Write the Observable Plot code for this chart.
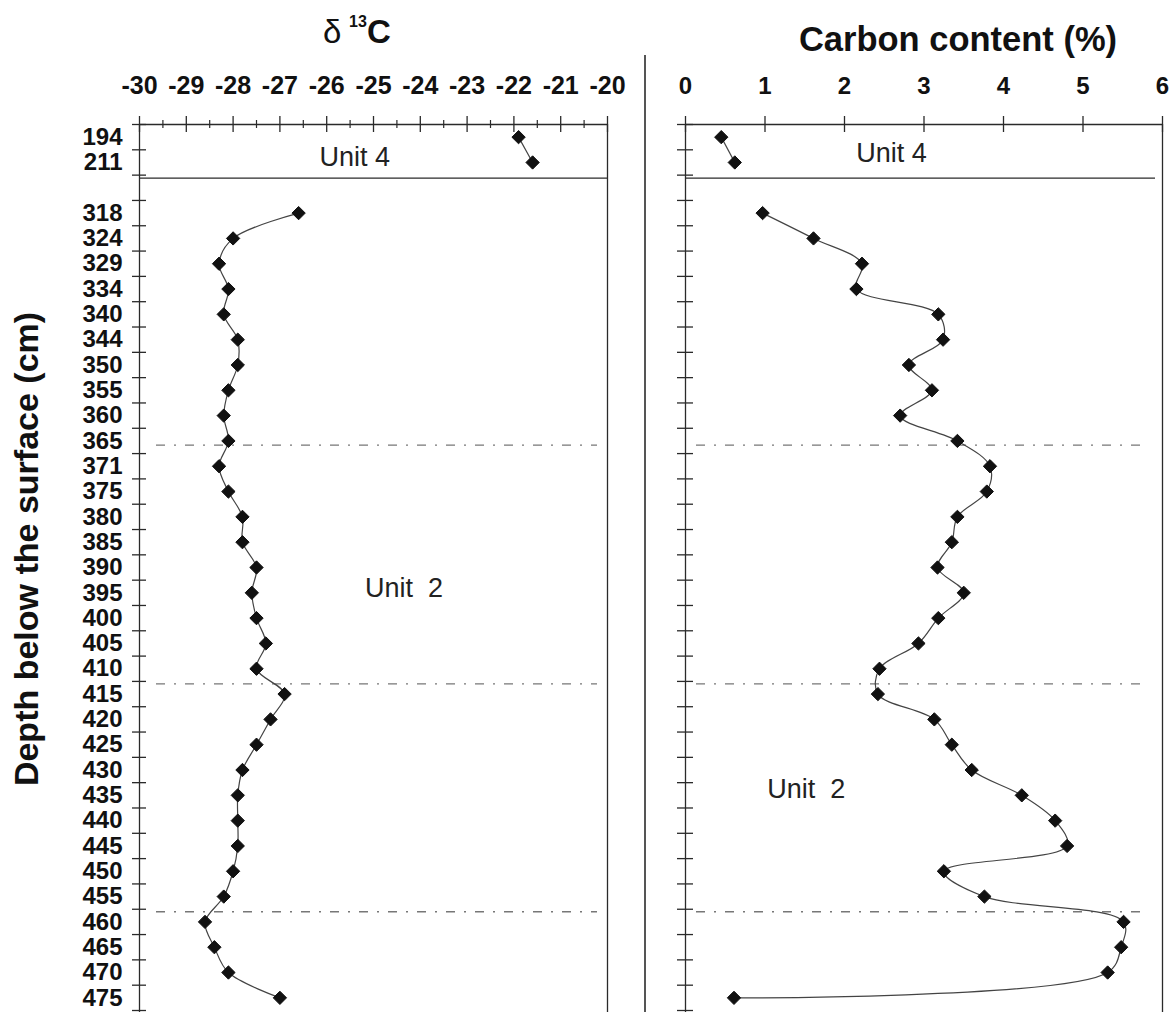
<!DOCTYPE html>
<html>
<head>
<meta charset="utf-8">
<script src="https://cdn.jsdelivr.net/npm/d3@7"></script>
<script src="https://cdn.jsdelivr.net/npm/@observablehq/plot@0.6"></script>
<style>
  html, body { margin: 0; padding: 0; background: #fff; overflow: hidden; }
  #wrap { position: relative; width: 1174px; height: 1012px; overflow: hidden; font-family: "Liberation Sans", Arial, sans-serif; }
  #left { position: absolute; left: 0; top: 0; width: 645px; }
  #right { position: absolute; left: 645px; top: 0; width: 529px; }
  #sep { position: absolute; left: 644px; top: 55px; width: 1.5px; height: 1000px; background: #555; }
  #titles { position: absolute; left: 0; top: 0; pointer-events: none; }
</style>
</head>
<body>
<div id="wrap">
  <div id="left"></div>
  <div id="right"></div>
  <div id="sep"></div>
  <svg id="titles" width="1174" height="1012" font-family="Liberation Sans, Arial, sans-serif" fill="#111">
    <text x="323" y="43" font-size="33">δ</text>
    <text x="349" y="27" font-size="16" font-weight="bold">13</text>
    <text x="367" y="43" font-size="33" font-weight="bold">C</text>
    <text x="958" y="51" font-size="34.5" font-weight="bold" text-anchor="middle">Carbon content (%)</text>
    <text transform="translate(38,549) rotate(-90)" font-size="34" font-weight="bold" text-anchor="middle">Depth below the surface (cm)</text>
  </svg>
</div>
<script>
// ---- data ----
const unit4Depths = [194, 211];
const unit2Depths = [318, 324, 329, 334, 340, 344, 350, 355, 360, 365, 371, 375, 380, 385, 390, 395,
                     400, 405, 410, 415, 420, 425, 430, 435, 440, 445, 450, 455, 460, 465, 470, 475];
const d13cUnit4 = [-21.9, -21.6];
const d13cUnit2 = [-26.6, -28.0, -28.3, -28.1, -28.2, -27.9, -27.9, -28.1, -28.2, -28.1, -28.3, -28.1,
                   -27.8, -27.8, -27.5, -27.6, -27.5, -27.3, -27.5, -26.9, -27.2, -27.5, -27.8, -27.9,
                   -27.9, -27.9, -28.0, -28.2, -28.6, -28.4, -28.1, -27.0];
const carbonUnit4 = [0.45, 0.62];
const carbonUnit2 = [0.97, 1.61, 2.22, 2.15, 3.18, 3.24, 2.81, 3.10, 2.70, 3.42, 3.83, 3.79,
                     3.42, 3.35, 3.17, 3.50, 3.18, 2.93, 2.44, 2.42, 3.13, 3.35, 3.60, 4.23,
                     4.65, 4.80, 3.25, 3.76, 5.51, 5.48, 5.31, 0.61];
const d13cTicks = [-30, -29, -28, -27, -26, -25, -24, -23, -22, -21, -20];
const carbonTicks = [0, 1, 2, 3, 4, 5, 6];
const subUnitBoundaries = [366, 413, 458]; // depths (cm) of dash-dot lines

// ---- derived layout (rows are evenly spaced depth slots, one empty slot between units) ----
const gap = 1;
const nRows = unit4Depths.length + gap + unit2Depths.length;
const records = [
  ...unit4Depths.map((d, i) => ({depth: d, unit: "Unit 4", row: i + 0.5, d13c: d13cUnit4[i], carbon: carbonUnit4[i]})),
  ...unit2Depths.map((d, i) => ({depth: d, unit: "Unit 2", row: unit4Depths.length + gap + i + 0.5, d13c: d13cUnit2[i], carbon: carbonUnit2[i]}))
];
const rowLabel = new Map(records.map(r => [r.row, String(r.depth)]));
const rowEdges = d3.range(0, nRows + 1);
function depthToRow(d) {
  const rs = records.filter(r => r.unit === "Unit 2");
  for (let i = 0; i < rs.length - 1; i++) {
    if (d >= rs[i].depth && d <= rs[i + 1].depth) {
      return rs[i].row + (d - rs[i].depth) / (rs[i + 1].depth - rs[i].depth);
    }
  }
  return rs[rs.length - 1].row;
}
const boundaryRows = subUnitBoundaries.map(depthToRow);
const minorTicks = d3.range(-29.5, -20, 1);

const H = 1010, MT = 124, frameH = H - MT;
const font = {fontFamily: "Liberation Sans, Arial, sans-serif", fontSize: "24px", fontWeight: "bold", color: "#111", background: "transparent", overflow: "visible"};
const ink = "#2a2a2a";

// ---- left panel: δ13C ----
const LW = 645, LML = 139, LMR = 38, LFW = LW - LML - LMR;
const leftLabels = [
  {label: "Unit 4", x: -25.4, y: 1.62},
  {label: "Unit  2", x: -24.35, y: 18.65}
];
const left = Plot.plot({
  width: LW, height: H, marginLeft: LML, marginRight: LMR, marginTop: MT, marginBottom: 0,
  style: font,
  x: {domain: [-30, -20], axis: null},
  y: {domain: [0, nRows], reverse: true, axis: null},
  marks: [
    Plot.ruleY([0], {stroke: ink, strokeWidth: 1.3}),
    Plot.ruleX([-30, -20], {stroke: ink, strokeWidth: 1.3, insetBottom: -10}),
    Plot.tickX(d13cTicks, {x: d => d, insetTop: -8, insetBottom: frameH - 8, stroke: ink, strokeWidth: 1.3}),
    Plot.tickX(minorTicks, {x: d => d, insetTop: -4, insetBottom: frameH - 4, stroke: ink, strokeWidth: 1.2}),
    Plot.tickY(rowEdges, {y: d => d, insetLeft: -7, insetRight: LFW - 7, stroke: ink, strokeWidth: 1.3}),
    Plot.axisX(d13cTicks, {anchor: "top", tickSize: 0, tickPadding: 31, tickFormat: d => String(d), fontSize: 25}),
    Plot.axisY(records.map(r => r.row), {anchor: "left", tickSize: 0, tickPadding: 17, tickFormat: v => rowLabel.get(v), fontSize: 24}),
    Plot.ruleY([unit4Depths.length], {dy: 3, stroke: ink, strokeWidth: 1.3}),
    Plot.ruleY(boundaryRows, {stroke: "#777", strokeWidth: 1.3, strokeDasharray: "9,9,2,9", insetLeft: 17, insetRight: 10}),
    Plot.line(records, {x: "d13c", y: "row", z: "unit", curve: "catmull-rom", stroke: "#444", strokeWidth: 1.2}),
    Plot.dot(records, {x: "d13c", y: "row", symbol: "diamond2", r: 6, fill: "#111", stroke: "#111", strokeWidth: 1}),
    Plot.text(leftLabels, {x: "x", y: "y", text: "label", fontWeight: "normal", fontSize: 27, lineAnchor: "bottom", fill: "#222"})
  ]
});
document.getElementById("left").appendChild(left);

// ---- right panel: carbon content ----
const RW = 529, RML = 40, RMR = 12, RFW = RW - RML - RMR;
const rightLabels = [
  {label: "Unit 4", x: 2.59, y: 1.5},
  {label: "Unit  2", x: 1.52, y: 26.6}
];
const right = Plot.plot({
  width: RW, height: H, marginLeft: RML, marginRight: RMR, marginTop: MT, marginBottom: 0,
  style: font,
  x: {domain: [0, 6], axis: null},
  y: {domain: [0, nRows], reverse: true, axis: null},
  marks: [
    Plot.ruleY([0], {stroke: ink, strokeWidth: 1.3}),
    Plot.ruleX([0, 6], {stroke: ink, strokeWidth: 1.3, insetBottom: -10}),
    Plot.tickX(carbonTicks, {x: d => d, insetTop: -8, insetBottom: frameH - 8, stroke: ink, strokeWidth: 1.3}),
    Plot.tickY(rowEdges, {y: d => d, insetLeft: -8, insetRight: RFW - 8, stroke: ink, strokeWidth: 1.3}),
    Plot.axisX(carbonTicks, {anchor: "top", tickSize: 0, tickPadding: 31, tickFormat: d => String(d), fontSize: 24}),
    Plot.ruleY([unit4Depths.length], {dy: 3, stroke: ink, strokeWidth: 1.3, insetRight: 7}),
    Plot.ruleY(boundaryRows, {stroke: "#777", strokeWidth: 1.3, strokeDasharray: "9,9,2,9", insetLeft: 11, insetRight: 20}),
    Plot.line(records, {x: "carbon", y: "row", z: "unit", curve: "catmull-rom", stroke: "#444", strokeWidth: 1.2}),
    Plot.dot(records, {x: "carbon", y: "row", symbol: "diamond2", r: 6, fill: "#111", stroke: "#111", strokeWidth: 1}),
    Plot.text(rightLabels, {x: "x", y: "y", text: "label", fontWeight: "normal", fontSize: 27, lineAnchor: "bottom", fill: "#222"})
  ]
});
document.getElementById("right").appendChild(right);
</script>
</body>
</html>
